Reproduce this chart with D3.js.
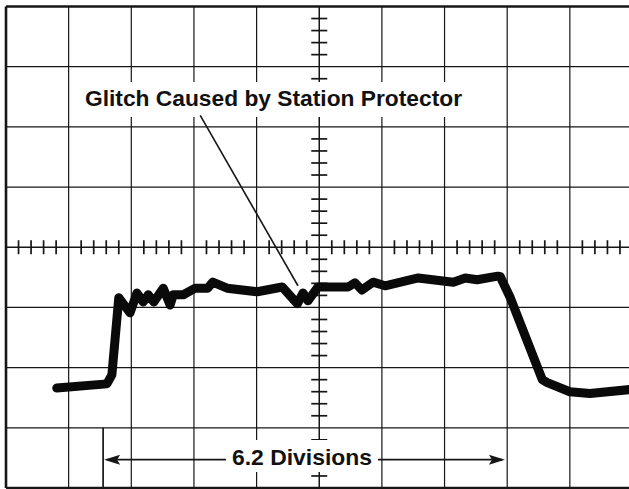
<!DOCTYPE html>
<html>
<head>
<meta charset="utf-8">
<script src="https://cdn.jsdelivr.net/npm/d3@7"></script>
<style>
  html, body { margin: 0; padding: 0; background: #fff; }
  svg { display: block; }
  text { font-family: "Liberation Sans", Arial, sans-serif; fill: #111; }
</style>
</head>
<body>
<svg id="scope" width="629" height="489"></svg>
<script>
// Graticule: 10 horizontal x 8 vertical divisions, minor marks every 0.2 div
const majorX = d3.range(0, 11, 1);
const majorY = d3.range(-4, 5, 1);
const minorX = d3.range(0, 10.001, 0.2);
const minorY = d3.range(-4, 4.001, 0.2);

// Captured pulse (horizontal / vertical position in divisions)
const traceX = [0.81, 1.61, 1.69, 1.80, 1.98, 2.09, 2.19, 2.27, 2.36, 2.51,
                2.62, 2.67, 2.83, 3.02, 3.22, 3.30, 3.53, 4.01, 4.41, 4.65,
                4.74, 4.82, 4.98, 5.46, 5.57, 5.68, 5.86, 6.05, 6.58, 7.14,
                7.33, 7.52, 7.85, 7.89, 8.05, 8.56, 8.64, 9.00, 9.32, 10.0];
const traceY = [-2.34, -2.27, -2.12, -0.84, -1.09, -0.76, -0.91, -0.79, -0.91, -0.68,
                -0.96, -0.79, -0.79, -0.68, -0.68, -0.58, -0.68, -0.74, -0.66, -0.94,
                -0.76, -0.89, -0.66, -0.66, -0.59, -0.71, -0.58, -0.64, -0.51, -0.58,
                -0.51, -0.54, -0.48, -0.49, -0.84, -2.20, -2.25, -2.40, -2.43, -2.36];

// Annotation texts and the measured pulse width
const glitchLabel = "Glitch Caused by Station Protector";
const widthLabel = "6.2 Divisions";
const widthStart = 1.55, widthEnd = 7.98;

const svg = d3.select("#scope");
const x = d3.scaleLinear().domain([0, 10]).range([6, 632.5]);
const y = d3.scaleLinear().domain([-4, 4]).range([488, 6.5]);

const ink = "#161616";

// major grid
const grid = svg.append("g").attr("stroke", ink).attr("stroke-width", 1.2);
grid.selectAll("line.v").data(majorX).join("line")
  .attr("class", "v")
  .attr("x1", d => x(d)).attr("x2", d => x(d))
  .attr("y1", y(4)).attr("y2", y(-4))
  .attr("stroke-width", d => d === 5 ? 1.5 : (d === 0 ? 2.6 : 1.2));
grid.selectAll("line.h").data(majorY).join("line")
  .attr("class", "h")
  .attr("x1", x(0)).attr("x2", x(10))
  .attr("y1", d => y(d)).attr("y2", d => y(d))
  .attr("stroke-width", d => (d === 4 || d === -4) ? 2.6 : (d === 0 ? 1.5 : 1.2));

// minor marks on the centre axes
const ticks = svg.append("g").attr("stroke", ink).attr("stroke-width", 1.7);
ticks.selectAll("line.tx").data(minorX.filter(d => Math.abs(d - Math.round(d)) > 1e-6)).join("line")
  .attr("class", "tx")
  .attr("x1", d => x(d)).attr("x2", d => x(d))
  .attr("y1", y(0) - 7).attr("y2", y(0) + 7);
ticks.selectAll("line.ty").data(minorY.filter(d => Math.abs(d - Math.round(d)) > 1e-6)).join("line")
  .attr("class", "ty")
  .attr("x1", x(5) - 8).attr("x2", x(5) + 8)
  .attr("y1", d => y(d)).attr("y2", d => y(d));

// label backgrounds clear the graticule behind the text
svg.append("rect").attr("x", 80).attr("y", 82).attr("width", 382).attr("height", 35).attr("fill", "#fff");
svg.append("rect").attr("x", 226).attr("y", 440).attr("width", 152).attr("height", 32).attr("fill", "#fff");

// trace
const pts = traceX.map((d, i) => [d, traceY[i]]);
svg.append("path")
  .datum(pts)
  .attr("d", d3.line().x(d => x(d[0])).y(d => y(d[1])))
  .attr("fill", "none")
  .attr("stroke", "#0a0a0a")
  .attr("stroke-width", 9)
  .attr("stroke-linejoin", "round")
  .attr("stroke-linecap", "round");

// glitch annotation
svg.append("text")
  .attr("x", 85).attr("y", 106)
  .attr("font-size", 22)
  .attr("font-weight", "bold")
  .attr("textLength", 377).attr("lengthAdjust", "spacingAndGlyphs")
  .text(glitchLabel);
svg.append("line")
  .attr("x1", x(3.10)).attr("y1", y(2.19))
  .attr("x2", x(4.66)).attr("y2", y(-0.64))
  .attr("stroke", ink).attr("stroke-width", 1.6);

// pulse width dimension
const ay = y(-3.53);
const dim = svg.append("g").attr("stroke", ink).attr("stroke-width", 1.7);
dim.append("line").attr("x1", x(widthStart)).attr("x2", x(widthStart))
  .attr("y1", y(-3)).attr("y2", y(-4));
dim.append("line").attr("x1", x(widthStart) + 4).attr("x2", 226).attr("y1", ay).attr("y2", ay);
dim.append("line").attr("x1", 378).attr("x2", x(widthEnd) - 4).attr("y1", ay).attr("y2", ay);
const head = (tip, dir) => {
  const bx = tip + dir * 16;
  return `M${tip},${ay} L${bx},${ay - 5} L${bx - dir * 3},${ay} L${bx},${ay + 5} Z`;
};
svg.append("path").attr("d", head(x(widthStart) + 1, 1)).attr("fill", ink);
svg.append("path").attr("d", head(x(widthEnd) - 1, -1)).attr("fill", ink);

svg.append("text")
  .attr("x", 232).attr("y", 465)
  .attr("font-size", 22)
  .attr("font-weight", "bold")
  .attr("textLength", 140).attr("lengthAdjust", "spacingAndGlyphs")
  .text(widthLabel);
</script>
</body>
</html>
